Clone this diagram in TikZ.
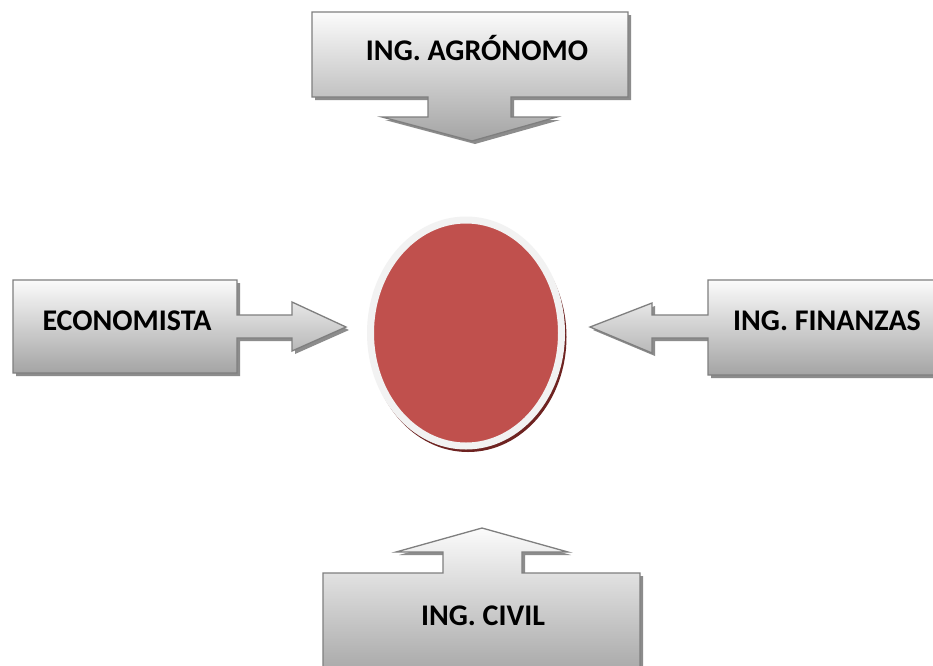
\documentclass[tikz,border=0pt]{standalone}
\usepackage{fontspec}
\setmainfont{Carlito}
\usetikzlibrary{shapes.geometric}
\definecolor{boxedge}{HTML}{7F7F7F}
\definecolor{boxtop}{HTML}{FBFBFB}
\definecolor{boxbot}{HTML}{A4A4A4}
\definecolor{boxshadow}{HTML}{8C8C8C}
\definecolor{corered}{HTML}{C0504D}
\definecolor{corering}{HTML}{F2F2F2}
\definecolor{coreshadow}{HTML}{6E2321}
\tikzset{
  callout/.style={draw=boxedge, line width=1.3pt, line join=miter, top color=boxtop, bottom color=boxbot},
  calloutshade/.style={fill=boxshadow, shift={(3,3)}},
  tag/.style={font=\bfseries\fontsize{30}{34}\selectfont, text=black, inner sep=0pt},
}
\begin{document}
\begin{tikzpicture}[x=1pt,y=-1pt]
\path[clip] (0,0) rectangle (933,665);
\fill[white] (0,0) rectangle (933,665);

% top callout pointing down
\fill[calloutshade] (312,12) -- (628,12) -- (628,97) -- (511,97) -- (511,117) -- (557,117)
  -- (472,141) -- (382,117) -- (428,117) -- (428,97) -- (312,97) -- cycle;
\path[callout] (312,12) -- (628,12) -- (628,97) -- (511,97) -- (511,117) -- (557,117)
  -- (472,141) -- (382,117) -- (428,117) -- (428,97) -- (312,97) -- cycle;

% left callout pointing right
\fill[calloutshade] (13,280) -- (237,280) -- (237,315) -- (292,315) -- (292,302) -- (346,327)
  -- (292,351) -- (292,338) -- (237,338) -- (237,373) -- (13,373) -- cycle;
\path[callout] (13,280) -- (237,280) -- (237,315) -- (292,315) -- (292,302) -- (346,327)
  -- (292,351) -- (292,338) -- (237,338) -- (237,373) -- (13,373) -- cycle;

% right callout pointing left
\fill[calloutshade] (652,315) -- (708,315) -- (708,280) -- (945,280) -- (945,375) -- (708,375)
  -- (708,338) -- (652,338) -- (652,353) -- (590,327) -- (652,303) -- cycle;
\path[callout] (652,315) -- (708,315) -- (708,280) -- (945,280) -- (945,375) -- (708,375)
  -- (708,338) -- (652,338) -- (652,353) -- (590,327) -- (652,303) -- cycle;

% bottom callout pointing up
\fill[calloutshade] (323,573) -- (443,573) -- (443,552) -- (396,552) -- (482,528) -- (568,552)
  -- (522,552) -- (522,573) -- (640,573) -- (640,680) -- (323,680) -- cycle;
\path[callout] (323,573) -- (443,573) -- (443,552) -- (396,552) -- (482,528) -- (568,552)
  -- (522,552) -- (522,573) -- (640,573) -- (640,680) -- (323,680) -- cycle;

% central disc with its shadow and light ring
\fill[coreshadow] (468,337) ellipse [x radius=98.5, y radius=115];
\node[ellipse, fill=corered, draw=corering, line width=7pt, inner sep=0pt,
      minimum width=191pt, minimum height=226pt] (core) at (466,333) {};

% labels
\node[tag] (agro) at (477,48) {ING. AGRÓNOMO};
\node[tag] (econ) at (127,321) {ECONOMISTA};
\node[tag] (fin) at (827,321) {ING. FINANZAS};
\node[tag] (civil) at (483,616) {ING. CIVIL};
\end{tikzpicture}
\end{document}
